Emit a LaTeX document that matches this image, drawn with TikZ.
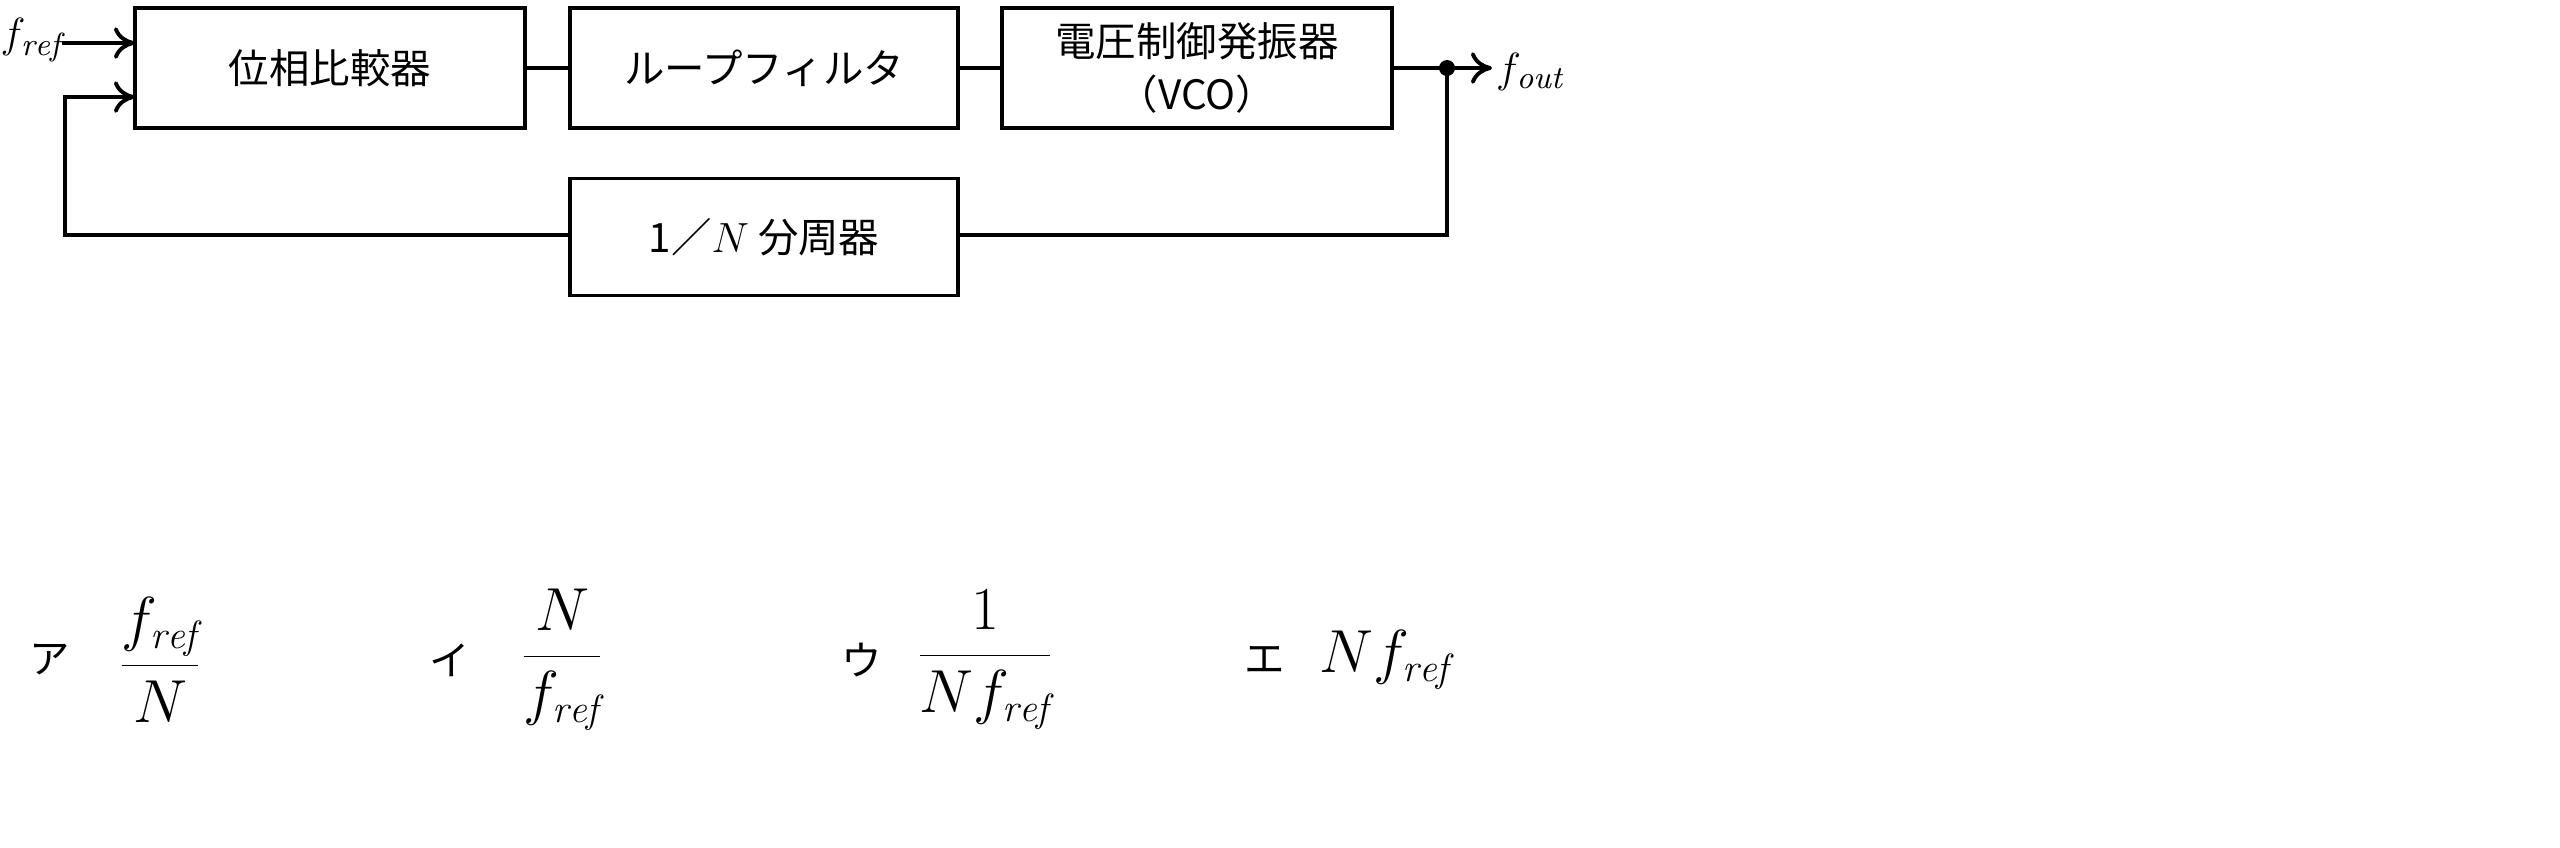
\documentclass[tikz,border=0pt]{standalone}
\usepackage{fontspec}
\newfontfamily\cjk{Noto Sans CJK JP}
\usetikzlibrary{arrows.meta}
\begin{document}
\begin{tikzpicture}[x=0.01cm,y=-0.01cm,
  blk/.style={draw,line width=1.1pt,inner sep=0pt},
  ln/.style={line width=1.1pt},
  arr/.style={ln,-{To[length=6pt,width=9pt]}},
  lab/.style={font=\fontsize{11.5}{15}\selectfont\cjk},
  mth/.style={font=\fontsize{16}{19}\selectfont},
  sml/.style={font=\fontsize{13}{15}\selectfont}]
\useasboundingbox (0,0) rectangle (2560,847);
\node[blk,minimum width=3.9cm,minimum height=1.2cm] (pc) at (330,68) {};
\node[lab] at (pc) {位相比較器};
\node[blk,minimum width=3.88cm,minimum height=1.2cm] (lf) at (764,68) {};
\node[lab] at (lf) {ループフィルタ};
\node[blk,minimum width=3.89cm,minimum height=1.2cm] (vco) at (1197,68) {};
\node[lab,align=center] at (vco) {電圧制御発振器\\（VCO）};
\node[blk,minimum width=3.88cm,minimum height=1.17cm] (div) at (764,237) {};
\node[lab] at (div) {1／$N$ 分周器};
\draw[ln] (pc.east) -- (lf.west);
\draw[ln] (lf.east) -- (vco.west);
\node[sml,anchor=west,inner sep=0pt] (fref) at (0,40) {$f_{\mathit{ref}}$};
\node[sml,anchor=west,inner sep=1pt] (fout) at (1492,72) {$f_{\mathit{out}}$};
\coordinate (dot) at (1447,68);
\coordinate (in1) at (62,43);
\draw[arr] (in1) -- (135,43);
\draw[arr] (vco.east) -- (1492,68);
\fill (dot) circle (0.08cm);
\draw[ln] (dot) -- (1447,235) -- (div.east |- 0,235);
\draw[arr] (div.west |- 0,235) -- (65,235) -- (65,97) -- (135,97);
\begin{scope}[mth]
\node[lab] (a) at (50,660) {ア};
\node (af) at (160,660) {$\displaystyle\frac{f_{\mathit{ref}}}{N}$};
\node[lab] (b) at (450,660) {イ};
\node (bf) at (562,660) {$\displaystyle\frac{N}{f_{\mathit{ref}}}$};
\node[lab] (c) at (862,660) {ウ};
\node (cf) at (985,660) {$\displaystyle\frac{1}{Nf_{\mathit{ref}}}$};
\node[lab] (d) at (1265,660) {エ};
\node (df) at (1385,660) {$Nf_{\mathit{ref}}$};
\end{scope}
\end{tikzpicture}
\end{document}
